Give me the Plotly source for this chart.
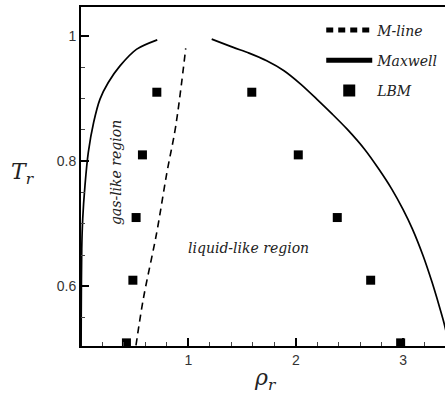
import plotly.graph_objects as go

# Maxwell coexistence curve (gas branch, liquid branch)
gas_rho = [0.001, 0.002, 0.007, 0.016, 0.037, 0.068, 0.118, 0.177, 0.254, 0.363, 0.519, 0.710]
gas_T   = [0.505, 0.55, 0.66, 0.708, 0.761, 0.814, 0.862, 0.899, 0.9255, 0.952, 0.9788, 0.9936]
liq_rho = [1.217, 1.418, 1.565, 1.729, 1.890, 2.045, 2.195, 2.340, 2.478, 2.640, 2.774,
           2.895, 2.998, 3.085, 3.185, 3.268, 3.335, 3.378, 3.41]
liq_T   = [0.9947, 0.9815, 0.9724, 0.9601, 0.9442, 0.9229, 0.899, 0.875, 0.851, 0.819, 0.787,
           0.755, 0.723, 0.692, 0.649, 0.607, 0.569, 0.543, 0.52]

# M-line
m_rho = [0.512, 0.58, 0.705, 0.80, 0.882, 0.975]
m_T   = [0.506, 0.58, 0.686, 0.782, 0.856, 0.980]

# LBM results
lbm_rho = [0.706, 1.59, 0.572, 2.023, 0.513, 2.386, 0.483, 2.697, 0.423, 2.976]
lbm_T   = [0.91, 0.91, 0.81, 0.81, 0.71, 0.71, 0.61, 0.61, 0.51, 0.51]

serif = "DejaVu Serif"
sans = "Liberation Sans"

fig = go.Figure()
fig.add_trace(go.Scatter(x=m_rho, y=m_T, mode="lines", name="<i>M-line</i>",
                         line=dict(color="black", width=1.6, dash="7px,5px", shape="spline"),
                         legendgroup="a"))
fig.add_trace(go.Scatter(x=gas_rho + [None] + liq_rho, y=gas_T + [None] + liq_T,
                         mode="lines", name="<i>Maxwell</i>", connectgaps=False,
                         line=dict(color="black", width=1.7, shape="spline", smoothing=0.8),
                         legendgroup="b"))
fig.add_trace(go.Scatter(x=lbm_rho, y=lbm_T, mode="markers", name="<i>LBM</i>",
                         marker=dict(symbol="square", color="black", size=9),
                         cliponaxis=False, legendgroup="c"))

fig.update_layout(
    width=445, height=398,
    margin=dict(l=81, r=0, t=7, b=52),
    plot_bgcolor="white", paper_bgcolor="white",
    showlegend=True,
    legend=dict(x=0.66, y=0.978, xanchor="left", yanchor="top",
                font=dict(family=serif, size=14, color="#222"),
                bgcolor="rgba(0,0,0,0)", itemsizing="constant", itemwidth=46,
                tracegroupgap=9),
    xaxis=dict(range=[0, 3.389], showgrid=False, zeroline=False,
               showline=True, linecolor="black", linewidth=2, mirror=True,
               tickmode="array", tickvals=[1, 2, 3], ticktext=["1", "2", "3"],
               ticks="inside", ticklen=8, tickwidth=1.5, tickcolor="black",
               tickfont=dict(family=sans, size=14, color="#333"),
               minor=dict(dtick=0.2, tick0=0, ticks="inside", ticklen=4,
                          tickwidth=1, tickcolor="#444")),
    yaxis=dict(range=[0.505, 1.046], showgrid=False, zeroline=False,
               showline=True, linecolor="black", linewidth=2,
               tickmode="array", tickvals=[0.6, 0.8, 1.0], ticktext=["0.6", "0.8", "1"],
               ticks="inside", ticklen=8, tickwidth=1.5, tickcolor="black",
               tickfont=dict(family=sans, size=14, color="#333"),
               minor=dict(dtick=0.05, tick0=0.5, ticks="inside", ticklen=4,
                          tickwidth=1, tickcolor="#444")),
    annotations=[
        dict(x=0.332, y=0.782, xref="x", yref="y", text="<i>gas-like region</i>",
             textangle=-90, showarrow=False, xanchor="center", yanchor="middle",
             font=dict(family=serif, size=14, color="#222")),
        dict(x=1.556, y=0.662, xref="x", yref="y", text="<i>liquid-like region</i>",
             showarrow=False, xanchor="center", yanchor="middle",
             font=dict(family=serif, size=14, color="#222")),
        dict(x=-58 / 364, y=0.78, xref="paper", yref="y",
             text="<i>T<sub>r</sub></i>", showarrow=False,
             xanchor="center", yanchor="middle",
             font=dict(family=serif, size=22, color="#222")),
        dict(x=1.72, y=-33 / 339, xref="x", yref="paper",
             text="<i>ρ<sub>r</sub></i>", showarrow=False,
             xanchor="center", yanchor="middle",
             font=dict(family=serif, size=22, color="#222")),
    ],
)

fig.write_html("out.html")
